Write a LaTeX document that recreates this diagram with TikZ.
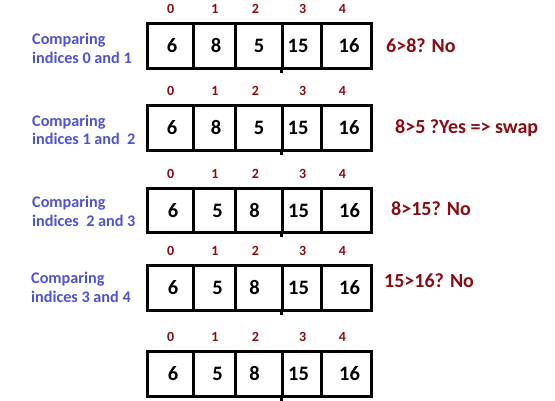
\documentclass[tikz,border=0pt]{standalone}
\usepackage{fontspec}
\setmainfont{Carlito}
\definecolor{lblue}{RGB}{78,82,214}
\definecolor{dred}{RGB}{136,12,20}
\tikzset{
  cellbox/.style={draw=black, line width=3pt, inner sep=0pt},
  idxlbl/.style={text=dred, font=\fontsize{14}{16}\selectfont\bfseries, inner sep=0pt, anchor=base},
  vallbl/.style={text=black, font=\fontsize{20.5}{22}\selectfont\bfseries, inner sep=0pt, anchor=base},
  cmplbl/.style={text=lblue, font=\fontsize{16.2}{18.5}\selectfont\bfseries, inner sep=0pt, align=left, anchor=north west},
  reslbl/.style={text=dred, font=\fontsize{20}{22}\selectfont\bfseries, inner sep=0pt, anchor=base west},
  tick/.style={line width=3pt}
}
\begin{document}
\begin{tikzpicture}[x=1pt,y=-1pt]
\useasboundingbox (0,0) rectangle (555,400);
\fill[white] (0,0) rectangle (555,400);
% boxes and indices
\foreach \r/\T/\B in {1/23.5/68, 2/105.5/150, 3/188/232, 4/265.5/310, 5/351/396}{
  \foreach \i/\xl/\xr/\idx/\dx in {1/147.5/193.5/0/0.2, 2/193.5/235.5/1/0.5, 3/235.5/282.5/2/-3.5, 4/282.5/321.5/3/0.7, 5/321.5/371.5/4/-4}{
    \node[cellbox, minimum width={\xr-\xl}, minimum height={\B-\T}] (c-\r-\i) at ({(\xl+\xr)/2},{(\T+\B)/2}) {};
    \node[idxlbl] (i-\r-\i) at ({(\xl+\xr)/2+\dx},{\T-10}) {\idx};
  }
  \draw[tick] (c-\r-4.south west) -- ++(0,3);
}
% values
\foreach \r/\T/\B in {1/23.5/68, 2/105.5/150}{
  \foreach \i/\x/\v in {1/172/6, 2/216/8, 3/259/5, 4/298/15, 5/349/16}{
    \node[vallbl] (v-\r-\i) at (\x,{(\T+\B)/2+7}) {\v};
  }
}
\foreach \r/\T/\B in {3/188/232, 4/265.5/310, 5/351/396}{
  \foreach \i/\x/\v in {1/173/6, 2/217.5/5, 3/254.5/8, 4/298.5/15, 5/349.5/16}{
    \node[vallbl] (v-\r-\i) at (\x,{(\T+\B)/2+7}) {\v};
  }
}
% left labels
\node[cmplbl] (l-1) at (32,33) {Comparing\\indices 0 and 1};
\node[cmplbl] (l-2) at (32,114.5) {Comparing\\indices 1 and\ \ 2};
\node[cmplbl] (l-3) at (32,196) {Comparing\\indices\ \ 2 and 3};
\node[cmplbl] (l-4) at (31,272) {Comparing\\indices 3 and 4};
% right labels
\node[reslbl] (r-1) at (386,52) {6>8? No};
\node[reslbl] (r-2) at (395,133.3) {8>5 ?Yes => swap};
\node[reslbl] (r-3) at (391,215) {8>15? No};
\node[reslbl] (r-4) at (384,287.3) {15>16? No};
\end{tikzpicture}
\end{document}
